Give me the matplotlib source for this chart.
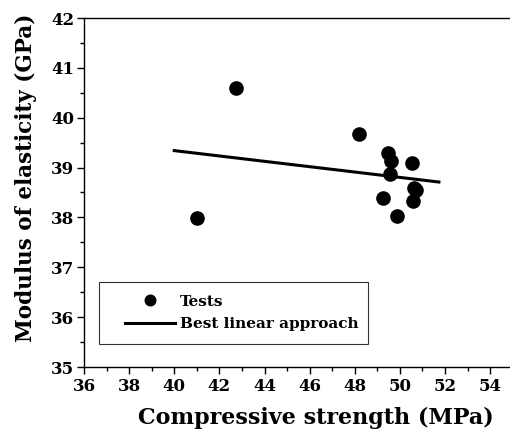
import numpy as np
import matplotlib
matplotlib.use('Agg')
import matplotlib.pyplot as plt
from matplotlib.ticker import MultipleLocator
from matplotlib.legend_handler import HandlerLine2D

plt.rcParams['font.family'] = 'DejaVu Serif'
plt.rcParams['font.weight'] = 'bold'

# test results
strength = [41.0, 42.73, 48.21, 49.47, 49.60, 49.57, 50.53, 50.63, 50.72, 50.60, 49.23, 49.87]
modulus = [37.99, 40.59, 39.67, 39.30, 39.14, 38.87, 39.09, 38.60, 38.56, 38.32, 38.39, 38.03]

# fitted line end points
fit_x = [40.0, 51.73]
fit_y = [39.34, 38.71]

# 5.1 in * 100 dpi rounds down to 509 px, so pad the width a touch
fig = plt.figure(figsize=(5.1001, 4.3801), dpi=100)
ax = fig.add_axes([0.1647, 0.1621, 0.845, 0.7968])

pts, = ax.plot(strength, modulus, 'o', color='black', markersize=9.5, label='Tests')
fit, = ax.plot(fit_x, fit_y, '-', color='black', lw=2.2, label='Best linear approach')

ax.set_xlim(36, 55.1)
ax.set_ylim(35, 42)
ax.xaxis.set_major_locator(MultipleLocator(2))
ax.xaxis.set_minor_locator(MultipleLocator(1))
ax.yaxis.set_major_locator(MultipleLocator(1))
ax.yaxis.set_minor_locator(MultipleLocator(0.5))
ax.tick_params(which='both', direction='out', width=1, labelsize=12)
ax.tick_params(which='major', length=5, pad=2)
ax.tick_params(which='minor', length=3)
ax.tick_params(axis='x', pad=3)
for s in ax.spines.values():
    s.set_linewidth(1)
ax.spines['right'].set_visible(False)

ax.set_xlabel('Compressive strength (MPa)', fontsize=16, fontweight='bold')
ax.xaxis.set_label_coords(0.538, -0.115)
ax.set_ylabel('Modulus of elasticity (GPa)', fontsize=15.5, fontweight='bold')
ax.yaxis.set_label_coords(-0.110, 0.543)

hm = {pts: HandlerLine2D(numpoints=1, xpad=0.85), fit: HandlerLine2D(xpad=0.85)}
leg = ax.legend(handles=[pts, fit], handler_map=hm, loc='lower left',
                bbox_to_anchor=(0.0348, 0.066, 0.624, 0.172), mode='expand',
                fontsize=11, frameon=True, fancybox=False, edgecolor='black',
                handlelength=4.1, handletextpad=0.33, borderaxespad=0,
                labelspacing=0.55, borderpad=0.85, markerscale=0.8)
leg.get_frame().set_linewidth(0.8)

fig.savefig('out.png', dpi=100)
